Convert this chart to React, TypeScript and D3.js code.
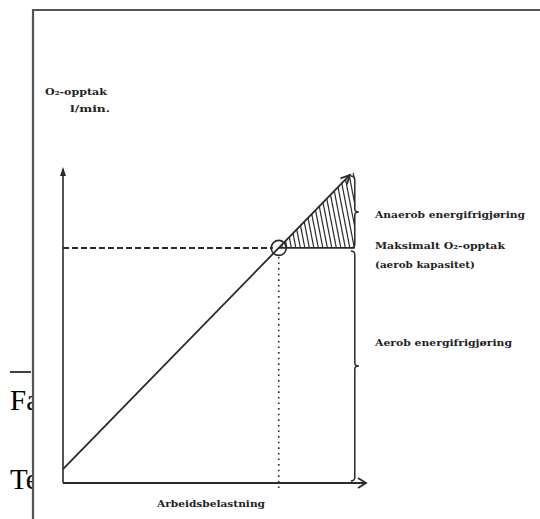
import * as d3 from "d3";
import React, { useEffect, useRef } from "react";

// work load (x) and O2 uptake (y), both in relative units 0..100
const linePoints: [number, number][] = [
  [0, 4.4],
  [94.7, 97.5],
];
const maxO2 = [74.4];
const axisEnd = [100, 100];
const braceX = [96.3];

const labels = [
  { text: "Anaerob energifrigjøring", yv: 84, w: 150 },
  { text: "Maksimalt O₂-opptak", yv: 74, w: 130 },
  { text: "(aerob kapasitet)", yv: 68, w: 100 },
  { text: "Aerob energifrigjøring", yv: 43.5, w: 137 },
];
const xTitle = "Arbeidsbelastning";
const yTitle = ["O₂-opptak", "l/min."];

const App = () => {
  const ref = useRef<SVGSVGElement>(null);

  useEffect(() => {
    const svg = d3.select(ref.current);
    svg.selectAll("*").remove();

    const x = d3.scaleLinear().domain([0, 100]).range([63, 366]);
    const y = d3.scaleLinear().domain([0, 100]).range([483, 167]);
    const ink = "#2a2a2a";
    const font = "'DejaVu Serif', serif";

    // text of the page behind the scan, covered by the picture
    svg.append("line").attr("x1", 10).attr("x2", 31).attr("y1", 372).attr("y2", 372)
      .attr("stroke", "#000").attr("stroke-width", 1.5);
    svg.append("text").attr("x", 10).attr("y", 410).attr("font-family", "'Liberation Serif', serif")
      .attr("font-size", 29).text("Fa");
    svg.append("text").attr("x", 10).attr("y", 489).attr("font-family", "'Liberation Serif', serif")
      .attr("font-size", 29).text("Te");
    svg.append("rect").attr("x", 33).attr("y", 0).attr("width", 507).attr("height", 519).attr("fill", "#fff");

    // frame of the scan
    svg.append("path").attr("d", "M33,519 V10 H540")
      .attr("fill", "none").attr("stroke", "#555").attr("stroke-width", 2.2);

    // axes
    svg.append("line").attr("x1", x(0)).attr("x2", x(0)).attr("y1", y(0)).attr("y2", y(axisEnd[1]) + 2)
      .attr("stroke", ink).attr("stroke-width", 1.6);
    svg.append("path")
      .attr("d", `M${x(0)},${y(axisEnd[1])} l-3,9 h6 z`)
      .attr("fill", ink);
    svg.append("line").attr("x1", x(0)).attr("x2", x(axisEnd[0])).attr("y1", y(0)).attr("y2", y(0))
      .attr("stroke", ink).attr("stroke-width", 1.8);
    svg.append("path")
      .attr("d", `M${x(axisEnd[0]) - 8},${y(0) - 5} L${x(axisEnd[0])},${y(0)} L${x(axisEnd[0]) - 8},${y(0) + 5}`)
      .attr("fill", "none").attr("stroke", ink).attr("stroke-width", 1.8);

    // intersection of the line with max O2
    const [p0, p1] = linePoints;
    const slope = (p1[1] - p0[1]) / (p1[0] - p0[0]);
    const xi = (maxO2[0] - p0[1]) / slope;

    // hatched anaerobic triangle, closed by the brace on the right
    const defs = svg.append("defs");
    const tri = [[xi, maxO2[0]], [braceX[0], maxO2[0]], [braceX[0], p0[1] + slope * braceX[0]]];
    defs.append("clipPath").attr("id", "triclip")
      .append("path").attr("d", d3.line()(tri.map(([a, b]) => [x(a), y(b)]) as [number, number][]) + "Z");
    const hatch = svg.append("g").attr("clip-path", "url(#triclip)");
    d3.range(x(xi) - 20, x(braceX[0]) + 10, 4.5).forEach((hx) => {
      hatch.append("line").attr("x1", hx).attr("y1", y(p1[1]) - 2).attr("x2", hx + 15).attr("y2", y(maxO2[0]) + 2)
        .attr("stroke", ink).attr("stroke-width", 1.2);
    });
    svg.append("line").attr("x1", x(xi)).attr("x2", x(braceX[0])).attr("y1", y(maxO2[0])).attr("y2", y(maxO2[0]))
      .attr("stroke", ink).attr("stroke-width", 1.8);

    // dashed max O2 level
    svg.append("line").attr("x1", x(0)).attr("x2", x(xi) - 6).attr("y1", y(maxO2[0])).attr("y2", y(maxO2[0]))
      .attr("stroke", ink).attr("stroke-width", 2).attr("stroke-dasharray", "6,3");

    // dotted vertical at max work load
    svg.append("line").attr("x1", x(xi)).attr("x2", x(xi)).attr("y1", y(maxO2[0]) + 9).attr("y2", y(0) + 7)
      .attr("stroke", ink).attr("stroke-width", 1.6).attr("stroke-dasharray", "1.6,4");

    // O2 uptake line with open arrow
    const lx0 = x(p0[0]), ly0 = y(p0[1]), lx1 = x(p1[0]), ly1 = y(p1[1]);
    svg.append("line").attr("x1", lx0).attr("y1", ly0).attr("x2", lx1).attr("y2", ly1)
      .attr("stroke", ink).attr("stroke-width", 1.8);
    const ang = Math.atan2(ly1 - ly0, lx1 - lx0);
    const head = (da: number) => [lx1 - 10 * Math.cos(ang + da), ly1 - 10 * Math.sin(ang + da)];
    const h1 = head(0.45), h2 = head(-0.45);
    svg.append("path").attr("d", `M${h1[0]},${h1[1]} L${lx1},${ly1} L${h2[0]},${h2[1]}`)
      .attr("fill", "none").attr("stroke", ink).attr("stroke-width", 1.8);

    svg.append("circle").attr("cx", x(xi)).attr("cy", y(maxO2[0])).attr("r", 7.5)
      .attr("fill", "none").attr("stroke", ink).attr("stroke-width", 1.6);

    // braces
    const brace = (top: number, bottom: number) => {
      const bx = x(braceX[0]);
      const mid = (top + bottom) / 2;
      return `M${bx - 4},${top} Q${bx},${top} ${bx},${top + 4} V${mid - 3} Q${bx},${mid} ${bx + 4},${mid} ` +
        `Q${bx},${mid} ${bx},${mid + 3} V${bottom - 4} Q${bx},${bottom} ${bx - 4},${bottom}`;
    };
    svg.append("path").attr("d", brace(y(p1[1]) + 1, y(maxO2[0])))
      .attr("fill", "none").attr("stroke", ink).attr("stroke-width", 1.5);
    svg.append("path").attr("d", brace(y(maxO2[0]) + 3, y(0) - 2))
      .attr("fill", "none").attr("stroke", ink).attr("stroke-width", 1.5);

    // right-side labels
    labels.forEach((l) => {
      svg.append("text").attr("x", 375).attr("y", y(l.yv)).attr("font-family", font)
        .attr("font-weight", "bold").attr("font-size", 10).attr("fill", "#222")
        .attr("textLength", l.w).attr("lengthAdjust", "spacingAndGlyphs").text(l.text);
    });

    // axis titles
    svg.append("text").attr("x", 157).attr("y", 507).attr("font-family", font)
      .attr("font-weight", "bold").attr("font-size", 10).attr("fill", "#222")
      .attr("textLength", 108).attr("lengthAdjust", "spacingAndGlyphs").text(xTitle);
    svg.append("text").attr("x", 45).attr("y", 95).attr("font-family", font)
      .attr("font-weight", "bold").attr("font-size", 10).attr("fill", "#222")
      .attr("textLength", 62).attr("lengthAdjust", "spacingAndGlyphs").text(yTitle[0]);
    svg.append("text").attr("x", 70).attr("y", 112).attr("font-family", font)
      .attr("font-weight", "bold").attr("font-size", 9).attr("fill", "#222")
      .attr("textLength", 40).attr("lengthAdjust", "spacingAndGlyphs").text(yTitle[1]);
  }, []);

  return (
    <svg ref={ref} width={540} height={519}
      style={{ position: "absolute", left: 0, top: 0, background: "#fff" }} />
  );
};

export default App;
